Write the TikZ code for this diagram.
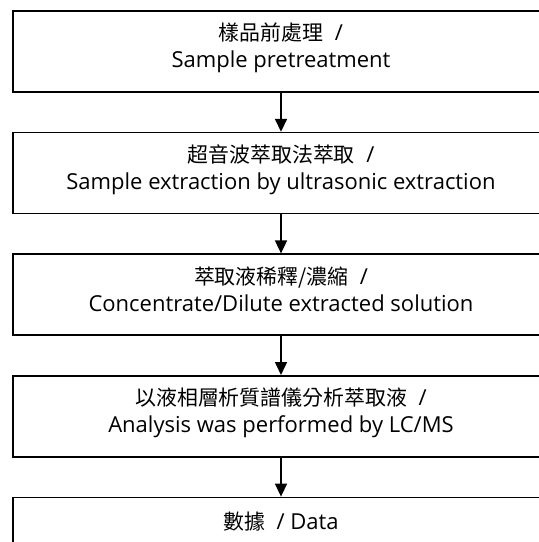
\documentclass[tikz,border=0pt]{standalone}
\usepackage{fontspec}
\setmainfont{Open Sans}
\newfontfamily\cjk[Scale=0.95]{Noto Sans CJK TC}
\usetikzlibrary{arrows.meta, positioning}

\begin{document}
\begin{tikzpicture}[x = 1pt, y = 1pt,
        stepbox/.style = {draw, line width = 1.6pt, minimum width = 536pt,
            minimum height = 81pt, inner sep = 0pt, align = center, text depth = 12pt,
            font = \fontsize{22}{27}\selectfont},
        flow/.style = {line width = 1.6pt, -{Triangle[width = 12pt, length = 13pt]}}]

        \useasboundingbox (0,0) rectangle (539,-542);
        \clip (0,0) rectangle (539,-542);

        \node[stepbox] (pretreat) at (281,-51.5) {{\cjk 樣品前處理}~~/\\Sample pretreatment};
        \node[stepbox, below = 39pt of pretreat] (extract) {{\cjk 超音波萃取法萃取}~~/\\Sample extraction by ultrasonic extraction};
        \node[stepbox, below = 39pt of extract] (dilute) {{\cjk 萃取液稀釋/濃縮}~~/\\Concentrate/Dilute extracted solution};
        \node[stepbox, below = 39pt of dilute] (lcms) {{\cjk 以液相層析質譜儀分析萃取液}~~/\\Analysis was performed by LC/MS};
        \node[stepbox, below = 39pt of lcms, minimum height = 58pt] (data) {{\cjk 數據}~~/ Data};

        \draw[flow] (pretreat) -- (extract);
        \draw[flow] (extract) -- (dilute);
        \draw[flow] (dilute) -- (lcms);
        \draw[flow] (lcms) -- (data);
\end{tikzpicture}
\end{document}
